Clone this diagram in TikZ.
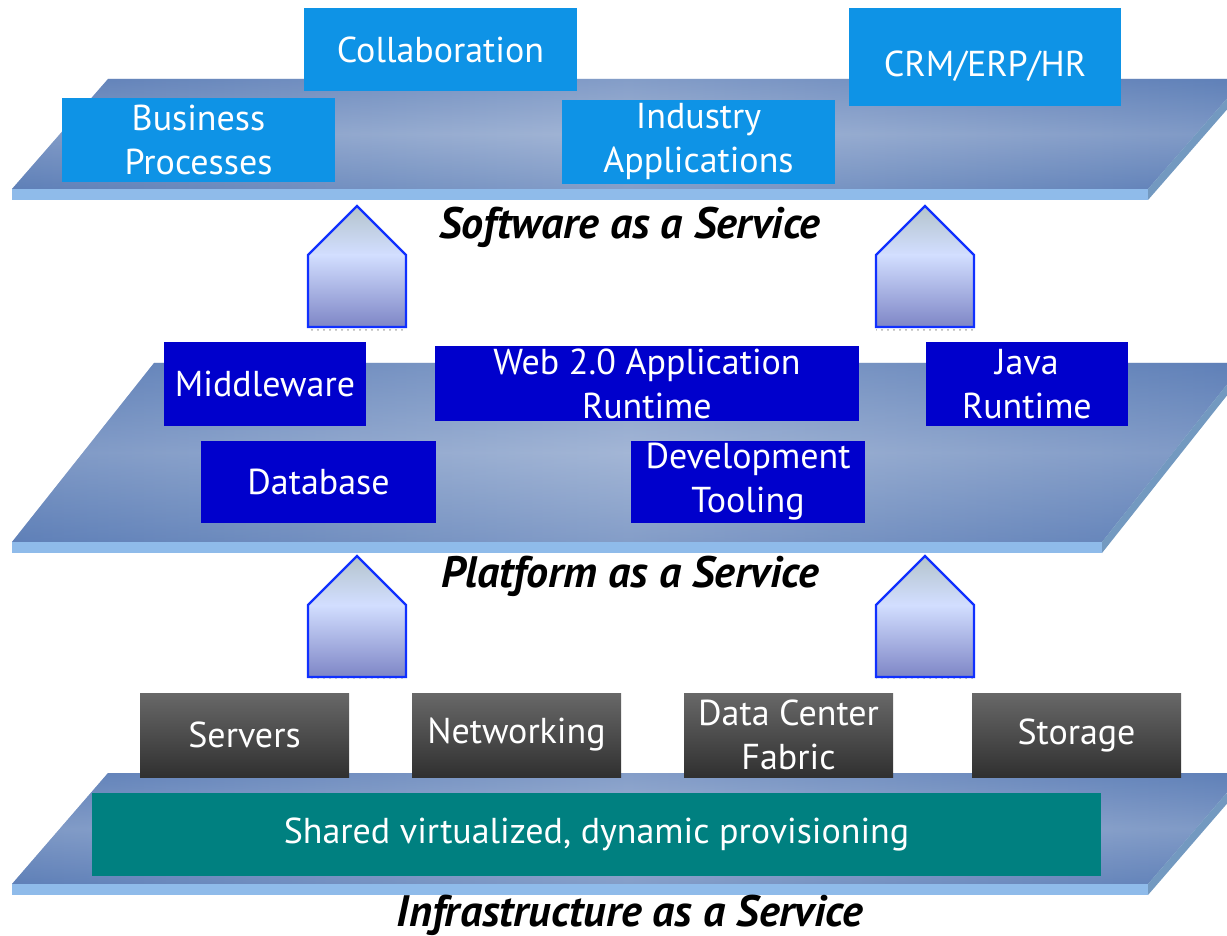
\documentclass[tikz,border=0pt]{standalone}
\usepackage{fontspec}
\setmainfont{PT Sans}
\usetikzlibrary{patterns}
\definecolor{slabEdge}{HTML}{5F80B8}
\definecolor{slabMid}{HTML}{A3B6D6}
\definecolor{slabFront}{HTML}{8FBBEA}
\definecolor{slabSide}{HTML}{7399C0}
\definecolor{saasBlue}{HTML}{0E93E6}
\definecolor{paasBlue}{HTML}{0000CC}
\definecolor{iaasTop}{HTML}{686868}
\definecolor{iaasBot}{HTML}{303030}
\definecolor{tealBox}{HTML}{008080}
\definecolor{arrowLine}{HTML}{1030FF}
\definecolor{arrowTip}{HTML}{B4C4CC}
\definecolor{arrowMid}{HTML}{D2DEFF}
\definecolor{arrowBot}{HTML}{7E86C6}
\tikzset{
  boxtext/.style={text=white, align=center, inner sep=0pt,
    font=\fontsize{18}{22}\selectfont},
  saasbox/.style={boxtext, fill=saasBlue},
  paasbox/.style={boxtext, fill=paasBlue},
  iaasbox/.style={boxtext, top color=iaasTop, bottom color=iaasBot},
  tealbox/.style={boxtext, fill=tealBox},
  layerlabel/.style={font=\fontsize{22}{26}\selectfont\bfseries\itshape, inner sep=0pt},
  uparrow/.style={draw=arrowLine, line width=1.2pt, line join=miter}
}
% one slab: top-left x, top y, bottom y, horizontal run of the slanted edge
\newcommand\drawslab[4]{%
  \pgfmathsetmacro\bl{#1-#4}%
  \pgfmathsetmacro\br{1244-#4}%
  \shade[left color=slabEdge, right color=slabEdge, middle color=slabMid]
    (#1,#2) -- (1244,#2) -- (\br,#3) -- (\bl,#3) -- cycle;
  \shade[top color=slabEdge, bottom color=slabEdge, middle color=slabMid, opacity=0.45]
    (#1,#2) -- (1244,#2) -- (\br,#3) -- (\bl,#3) -- cycle;
  \fill[slabFront] (\bl,#3) rectangle (\br,#3+11);
  \fill[slabSide] (\br,#3) -- (1244,#2) -- (1244,#2+11) -- (\br,#3+11) -- cycle;
}
% house-shaped arrow: name, centre x, tip y, shoulder y, bottom y, half width
\newcommand\housearrow[6]{%
  \fill[pattern=dots, pattern color=gray!70] (#2-#6,#5) rectangle (#2+#6,#5+4);
  \shade[top color=arrowTip, bottom color=arrowMid]
    (#2,#3) -- (#2+#6,#4) -- (#2-#6,#4) -- cycle;
  \shade[top color=arrowMid, bottom color=arrowBot]
    (#2-#6,#4) rectangle (#2+#6,#5);
  \draw[uparrow] (#2,#3) -- (#2+#6,#4) -- (#2+#6,#5) -- (#2-#6,#5) -- (#2-#6,#4) -- cycle;
  \coordinate (#1) at (#2,#3);
}
\begin{document}
\begin{tikzpicture}[x=0.5pt, y=-0.5pt]
\useasboundingbox (0,0) rectangle (1227,936);
\clip (0,0) rectangle (1227,936);

% the three slabs
\drawslab{108}{79}{189}{96}
\drawslab{154}{363}{542}{142}
\drawslab{108}{773}{884}{96}

% software layer
\node[saasbox, minimum width=136.5pt, minimum height=41.5pt] (collab) at (440.5,49.5) {Collaboration};
\node[saasbox, minimum width=136pt, minimum height=49pt, text height=20pt, text depth=0pt] (crm) at (985,57) {CRM/ERP/HR};
\node[saasbox, minimum width=136.5pt, minimum height=42pt] (bp) at (198.5,140) {Business\\Processes};
\node[saasbox, minimum width=136.5pt, minimum height=42pt] (ind) at (698.5,142) {Industry\\Applications};
\node[layerlabel] (saas) at (630,227) {Software as a Service};

% arrows between layers
\housearrow{a1}{357}{206}{255}{327}{49}
\housearrow{a2}{925}{206}{255}{327}{49}
\housearrow{a3}{357}{556}{605}{677}{49}
\housearrow{a4}{925}{556}{605}{677}{49}

% platform layer
\node[paasbox, minimum width=101pt, minimum height=42pt] (mw) at (265,384) {Middleware};
\node[paasbox, minimum width=212pt, minimum height=37.5pt] (web) at (647,383.5) {Web 2.0 Application\\Runtime};
\node[paasbox, minimum width=101pt, minimum height=42pt] (java) at (1027,384) {Java\\Runtime};
\node[paasbox, minimum width=117.5pt, minimum height=41pt] (db) at (318.5,482) {Database};
\node[paasbox, minimum width=117pt, minimum height=41pt] (dev) at (748,482) {Development\\Tooling};
\node[layerlabel] (paas) at (630,576) {Platform as a Service};

% infrastructure layer
\node[iaasbox, minimum width=104.5pt, minimum height=42pt] (srv) at (244.5,735) {Servers};
\node[iaasbox, minimum width=104.5pt, minimum height=42pt] (net) at (516.5,735) {Networking};
\node[iaasbox, minimum width=104.5pt, minimum height=42pt] (dc) at (788.5,735) {Data Center\\Fabric};
\node[iaasbox, minimum width=104.5pt, minimum height=42pt] (sto) at (1076.5,735) {Storage};
\node[tealbox, minimum width=504.5pt, minimum height=41.5pt] (shared) at (596.5,834.5) {Shared virtualized, dynamic provisioning};
\node[layerlabel] (iaas) at (630,915) {Infrastructure as a Service};
\end{tikzpicture}
\end{document}
